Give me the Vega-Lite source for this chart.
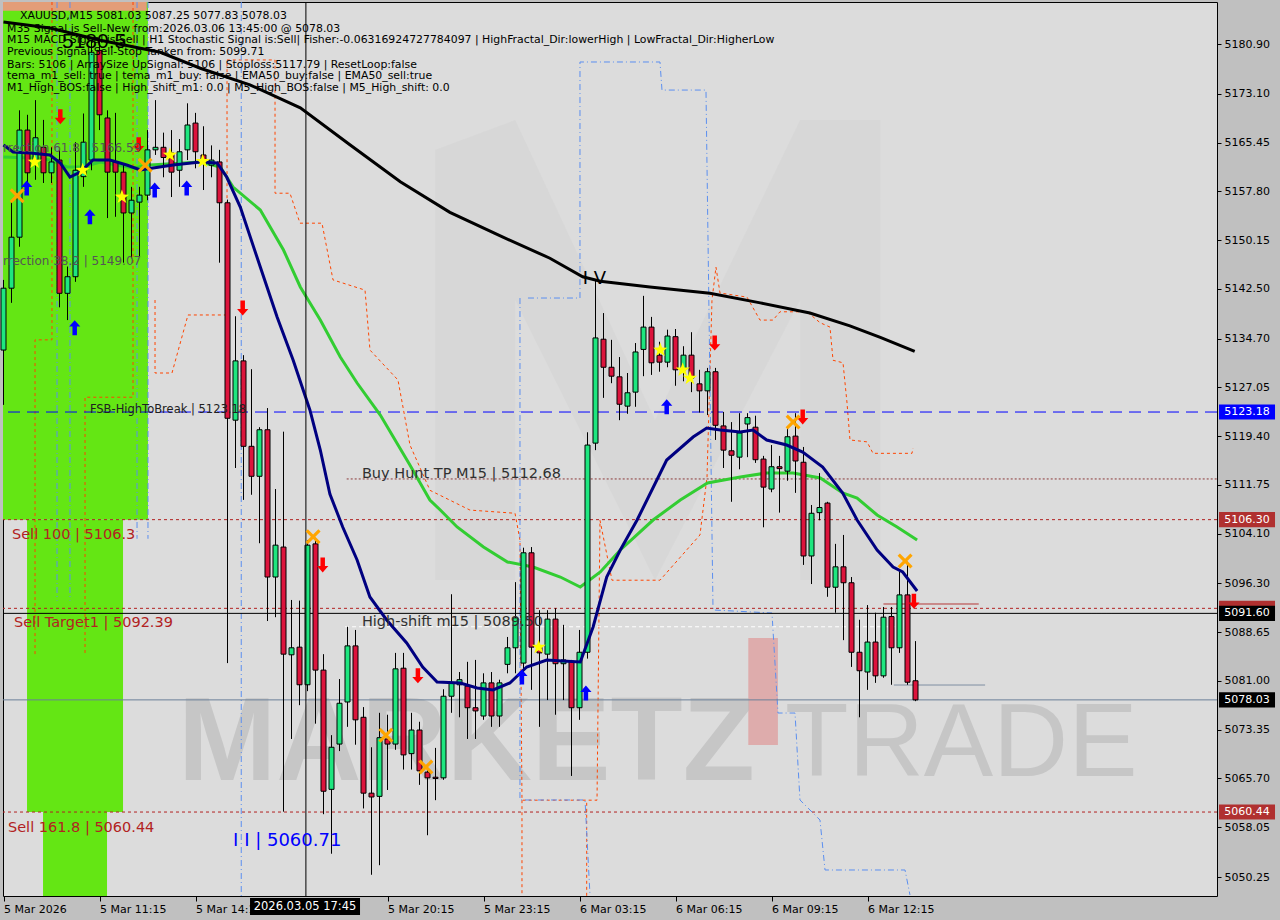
{
"$schema": "https://vega.github.io/schema/vega-lite/v6.json",
"width": 1214, "height": 894,
"autosize": {"type": "none"},
"padding": {"left": 3, "top": 2, "right": 63, "bottom": 24},
"background": "#c0c0c0",
"config": {"view": {"fill": "#dcdcdc", "stroke": "#000000", "strokeWidth": 1}},
"resolve": {"scale": {"color": "independent", "shape": "independent", "size": "independent", "strokeDash": "independent"}},
"datasets": {
"candles": [
{"i":0,"o":5132.9,"h":5143.9,"l":5124.3,"c":5142.6},
{"i":1,"o":5142.6,"h":5156.4,"l":5140.3,"c":5150.6},
{"i":2,"o":5150.6,"h":5170.5,"l":5149.1,"c":5167.4},
{"i":3,"o":5167.4,"h":5169.8,"l":5158.0,"c":5160.7},
{"i":4,"o":5162.7,"h":5172.1,"l":5159.6,"c":5166.2},
{"i":5,"o":5164.7,"h":5169.0,"l":5159.1,"c":5160.7},
{"i":6,"o":5160.7,"h":5164.7,"l":5159.1,"c":5162.4},
{"i":7,"o":5162.7,"h":5164.3,"l":5139.6,"c":5141.8},
{"i":8,"o":5141.8,"h":5146.0,"l":5137.6,"c":5144.4},
{"i":9,"o":5144.4,"h":5165.5,"l":5143.6,"c":5161.1},
{"i":10,"o":5160.1,"h":5170.0,"l":5158.5,"c":5165.5},
{"i":11,"o":5162.7,"h":5181.5,"l":5161.1,"c":5179.6},
{"i":12,"o":5179.9,"h":5181.5,"l":5167.4,"c":5169.8},
{"i":13,"o":5169.3,"h":5170.5,"l":5153.6,"c":5160.8},
{"i":14,"o":5162.4,"h":5170.1,"l":5153.8,"c":5160.8},
{"i":15,"o":5160.8,"h":5162.2,"l":5146.6,"c":5154.4},
{"i":16,"o":5154.4,"h":5158.5,"l":5147.3,"c":5156.4},
{"i":17,"o":5156.1,"h":5158.5,"l":5147.5,"c":5157.2},
{"i":18,"o":5157.2,"h":5167.4,"l":5156.4,"c":5164.3},
{"i":19,"o":5164.3,"h":5172.1,"l":5163.5,"c":5164.7},
{"i":20,"o":5164.7,"h":5167.0,"l":5160.0,"c":5163.1},
{"i":21,"o":5163.8,"h":5167.4,"l":5156.9,"c":5160.8},
{"i":22,"o":5161.1,"h":5166.0,"l":5158.5,"c":5164.0},
{"i":23,"o":5164.3,"h":5171.6,"l":5162.7,"c":5168.2},
{"i":24,"o":5168.5,"h":5170.1,"l":5161.4,"c":5164.0},
{"i":25,"o":5163.5,"h":5168.0,"l":5158.0,"c":5162.4},
{"i":26,"o":5161.9,"h":5165.0,"l":5160.0,"c":5162.7},
{"i":27,"o":5162.4,"h":5164.3,"l":5146.6,"c":5156.0},
{"i":28,"o":5156.0,"h":5156.5,"l":5083.8,"c":5122.2},
{"i":29,"o":5121.9,"h":5138.2,"l":5114.4,"c":5131.2},
{"i":30,"o":5131.2,"h":5132.1,"l":5109.4,"c":5117.8},
{"i":31,"o":5117.8,"h":5129.9,"l":5110.2,"c":5113.1},
{"i":32,"o":5113.1,"h":5120.8,"l":5102.6,"c":5120.4},
{"i":33,"o":5120.4,"h":5123.8,"l":5090.4,"c":5097.3},
{"i":34,"o":5097.3,"h":5111.1,"l":5091.0,"c":5102.3},
{"i":35,"o":5102.0,"h":5120.1,"l":5060.5,"c":5085.2},
{"i":36,"o":5085.1,"h":5093.7,"l":5071.9,"c":5086.2},
{"i":37,"o":5086.3,"h":5093.6,"l":5077.2,"c":5080.4},
{"i":38,"o":5080.4,"h":5103.1,"l":5079.4,"c":5102.3},
{"i":39,"o":5102.5,"h":5103.1,"l":5074.3,"c":5082.7},
{"i":40,"o":5082.7,"h":5085.2,"l":5060.1,"c":5063.7},
{"i":41,"o":5064.0,"h":5072.5,"l":5053.9,"c":5070.6},
{"i":42,"o":5071.1,"h":5081.3,"l":5070.0,"c":5077.5},
{"i":43,"o":5077.7,"h":5089.5,"l":5073.8,"c":5086.5},
{"i":44,"o":5086.5,"h":5089.0,"l":5071.0,"c":5074.9},
{"i":45,"o":5075.3,"h":5076.9,"l":5061.0,"c":5063.4},
{"i":46,"o":5063.4,"h":5070.6,"l":5050.6,"c":5062.8},
{"i":47,"o":5062.9,"h":5076.0,"l":5052.1,"c":5072.1},
{"i":48,"o":5071.9,"h":5075.7,"l":5063.9,"c":5071.1},
{"i":49,"o":5071.1,"h":5085.4,"l":5070.2,"c":5082.9},
{"i":50,"o":5083.0,"h":5085.4,"l":5067.1,"c":5069.4},
{"i":51,"o":5069.6,"h":5076.0,"l":5067.1,"c":5073.3},
{"i":52,"o":5073.3,"h":5074.6,"l":5064.7,"c":5066.9},
{"i":53,"o":5066.7,"h":5067.5,"l":5056.8,"c":5065.8},
{"i":54,"o":5065.9,"h":5070.5,"l":5062.3,"c":5065.7},
{"i":55,"o":5065.8,"h":5079.7,"l":5065.5,"c":5078.6},
{"i":56,"o":5078.6,"h":5094.6,"l":5076.0,"c":5080.7},
{"i":57,"o":5080.4,"h":5082.4,"l":5075.3,"c":5081.2},
{"i":58,"o":5080.2,"h":5084.0,"l":5071.9,"c":5076.8},
{"i":59,"o":5076.8,"h":5084.3,"l":5071.9,"c":5076.3},
{"i":60,"o":5075.5,"h":5082.2,"l":5074.9,"c":5080.7},
{"i":61,"o":5080.7,"h":5082.4,"l":5073.8,"c":5075.5},
{"i":62,"o":5075.5,"h":5081.2,"l":5073.8,"c":5080.7},
{"i":63,"o":5083.6,"h":5087.9,"l":5082.2,"c":5086.2},
{"i":64,"o":5086.2,"h":5096.5,"l":5082.2,"c":5090.9},
{"i":65,"o":5083.8,"h":5101.9,"l":5082.0,"c":5101.1},
{"i":66,"o":5101.1,"h":5102.0,"l":5079.6,"c":5086.3},
{"i":67,"o":5086.3,"h":5092.1,"l":5073.8,"c":5085.4},
{"i":68,"o":5085.2,"h":5092.1,"l":5078.0,"c":5090.7},
{"i":69,"o":5090.7,"h":5092.4,"l":5075.7,"c":5083.7},
{"i":70,"o":5083.7,"h":5089.8,"l":5078.0,"c":5084.3},
{"i":71,"o":5084.1,"h":5084.3,"l":5066.1,"c":5076.8},
{"i":72,"o":5076.8,"h":5089.0,"l":5074.9,"c":5085.5},
{"i":73,"o":5085.5,"h":5120.0,"l":5084.5,"c":5118.0},
{"i":74,"o":5118.3,"h":5143.9,"l":5117.2,"c":5134.8},
{"i":75,"o":5134.6,"h":5138.7,"l":5125.4,"c":5130.2},
{"i":76,"o":5130.2,"h":5134.5,"l":5127.7,"c":5128.8},
{"i":77,"o":5128.7,"h":5131.8,"l":5121.9,"c":5124.4},
{"i":78,"o":5124.1,"h":5129.3,"l":5122.9,"c":5126.2},
{"i":79,"o":5126.3,"h":5134.0,"l":5124.0,"c":5132.6},
{"i":80,"o":5133.0,"h":5141.4,"l":5128.8,"c":5136.5},
{"i":81,"o":5136.5,"h":5138.1,"l":5129.0,"c":5130.9},
{"i":82,"o":5132.1,"h":5134.2,"l":5129.5,"c":5131.0},
{"i":83,"o":5131.0,"h":5136.1,"l":5130.2,"c":5135.1},
{"i":84,"o":5135.0,"h":5136.2,"l":5127.3,"c":5129.8},
{"i":85,"o":5129.8,"h":5133.5,"l":5128.0,"c":5132.1},
{"i":86,"o":5132.1,"h":5135.7,"l":5126.3,"c":5128.5},
{"i":87,"o":5127.6,"h":5129.8,"l":5123.1,"c":5126.5},
{"i":88,"o":5126.5,"h":5130.1,"l":5122.7,"c":5129.5},
{"i":89,"o":5129.5,"h":5130.1,"l":5118.8,"c":5121.1},
{"i":90,"o":5121.0,"h":5123.2,"l":5114.4,"c":5117.2},
{"i":91,"o":5117.1,"h":5121.6,"l":5109.1,"c":5116.4},
{"i":92,"o":5116.1,"h":5123.0,"l":5114.2,"c":5119.9},
{"i":93,"o":5121.3,"h":5123.0,"l":5116.1,"c":5122.3},
{"i":94,"o":5120.8,"h":5122.6,"l":5115.2,"c":5115.7},
{"i":95,"o":5115.8,"h":5116.3,"l":5105.1,"c":5111.4},
{"i":96,"o":5111.1,"h":5118.0,"l":5110.6,"c":5114.6},
{"i":97,"o":5114.6,"h":5116.3,"l":5107.4,"c":5114.3},
{"i":98,"o":5113.9,"h":5120.7,"l":5112.4,"c":5119.3},
{"i":99,"o":5119.4,"h":5123.0,"l":5110.5,"c":5115.5},
{"i":100,"o":5115.3,"h":5117.7,"l":5099.2,"c":5100.6},
{"i":101,"o":5100.6,"h":5108.6,"l":5096.2,"c":5107.3},
{"i":102,"o":5107.4,"h":5113.6,"l":5106.2,"c":5108.2},
{"i":103,"o":5108.9,"h":5109.1,"l":5094.2,"c":5095.7},
{"i":104,"o":5095.7,"h":5102.5,"l":5091.7,"c":5098.9},
{"i":105,"o":5098.9,"h":5103.9,"l":5087.4,"c":5096.4},
{"i":106,"o":5096.4,"h":5097.3,"l":5083.2,"c":5085.5},
{"i":107,"o":5085.5,"h":5090.6,"l":5075.3,"c":5082.6},
{"i":108,"o":5082.4,"h":5092.9,"l":5079.6,"c":5087.1},
{"i":109,"o":5087.1,"h":5091.7,"l":5080.7,"c":5081.8},
{"i":110,"o":5081.8,"h":5092.6,"l":5081.5,"c":5091.0},
{"i":111,"o":5091.1,"h":5092.6,"l":5080.4,"c":5086.2},
{"i":112,"o":5086.2,"h":5098.1,"l":5085.4,"c":5094.5},
{"i":113,"o":5094.5,"h":5099.7,"l":5080.4,"c":5080.8},
{"i":114,"o":5081.03,"h":5087.25,"l":5077.83,"c":5078.03}
],
"ema200": [
{"i":0,"p":5184.35},{"i":5.8,"p":5183.4},{"i":12.1,"p":5181.5},{"i":19.6,"p":5179.6},{"i":24.6,"p":5177.1},{"i":30.8,"p":5174.5},{"i":37.1,"p":5170.9},{"i":43.3,"p":5165.1},{"i":49.6,"p":5159.3},{"i":55.8,"p":5154.5},{"i":62.1,"p":5150.8},{"i":68.3,"p":5147.3},{"i":72.4,"p":5144.4},{"i":74.6,"p":5143.7},{"i":80.8,"p":5142.8},{"i":88.3,"p":5141.8},{"i":94.6,"p":5140.3},{"i":100.8,"p":5138.7},{"i":105.8,"p":5136.7},{"i":109.6,"p":5134.9},{"i":113.9,"p":5132.7}
],
"ema20": [
{"i":0,"p":5165.06},{"i":1.2,"p":5163.96},{"i":3.3,"p":5163.8},{"i":5.8,"p":5163.49},{"i":7.1,"p":5162.24},{"i":8.3,"p":5160.04},{"i":9.6,"p":5160.82},{"i":11.2,"p":5162.71},{"i":13.3,"p":5162.71},{"i":15.4,"p":5161.92},{"i":17.1,"p":5161.14},{"i":18.7,"p":5161.45},{"i":21.2,"p":5161.92},{"i":24.6,"p":5162.39},{"i":26.7,"p":5162.24},{"i":27.9,"p":5160.04},{"i":29.6,"p":5155.33},{"i":32.1,"p":5145.92},{"i":34.2,"p":5138.08},{"i":36.2,"p":5131.34},{"i":38.3,"p":5123.5},{"i":39.6,"p":5117.22},{"i":40.8,"p":5110.32},{"i":42.4,"p":5105.15},{"i":44.2,"p":5099.97},{"i":45.8,"p":5094.17},{"i":47.9,"p":5090.56},{"i":50.4,"p":5086.95},{"i":52.4,"p":5083.19},{"i":54.2,"p":5080.83},{"i":57.1,"p":5080.68},{"i":59.2,"p":5079.89},{"i":61.2,"p":5079.58},{"i":63.3,"p":5080.68},{"i":65.4,"p":5083.19},{"i":67.9,"p":5084.29},{"i":69.9,"p":5084.13},{"i":72.1,"p":5083.97},{"i":73.7,"p":5089.46},{"i":75.4,"p":5097.3},{"i":77.1,"p":5101.54},{"i":79.2,"p":5106.24},{"i":82.9,"p":5115.65},{"i":86.2,"p":5119.26},{"i":87.9,"p":5120.67},{"i":89.6,"p":5120.35},{"i":92.1,"p":5120.04},{"i":93.7,"p":5120.35},{"i":95.4,"p":5118.79},{"i":97.9,"p":5118.0},{"i":99.9,"p":5116.9},{"i":102.4,"p":5114.55},{"i":104.9,"p":5110.48},{"i":106.7,"p":5106.24},{"i":109.2,"p":5101.54},{"i":111.2,"p":5098.87},{"i":112.4,"p":5098.09},{"i":114.2,"p":5095.11}
],
"ema50": [
{"i":0,"p":5163.18},{"i":3.7,"p":5163.02},{"i":5.8,"p":5162.71},{"i":7.9,"p":5161.61},{"i":9.9,"p":5161.61},{"i":12.1,"p":5162.39},{"i":16.2,"p":5161.45},{"i":18.3,"p":5161.92},{"i":24.6,"p":5162.39},{"i":27.1,"p":5161.61},{"i":28.7,"p":5158.47},{"i":32.1,"p":5154.86},{"i":35.0,"p":5148.59},{"i":37.1,"p":5142.79},{"i":39.6,"p":5137.61},{"i":42.1,"p":5131.81},{"i":44.2,"p":5127.73},{"i":47.1,"p":5122.71},{"i":50.8,"p":5114.87},{"i":53.3,"p":5109.38},{"i":54.6,"p":5107.81},{"i":56.7,"p":5105.15},{"i":60.0,"p":5102.01},{"i":63.0,"p":5099.66},{"i":66.2,"p":5098.87},{"i":69.6,"p":5097.3},{"i":72.1,"p":5095.74},{"i":74.6,"p":5098.09},{"i":77.1,"p":5101.54},{"i":81.2,"p":5106.24},{"i":84.6,"p":5109.38},{"i":88.0,"p":5112.05},{"i":92.1,"p":5112.99},{"i":95.4,"p":5113.62},{"i":98.7,"p":5113.62},{"i":102.1,"p":5112.83},{"i":104.9,"p":5110.48},{"i":106.7,"p":5109.69},{"i":109.2,"p":5107.03},{"i":111.7,"p":5105.15},{"i":114.2,"p":5103.11}
],
"marks": [
{"i":2.9,"p":5158.3,"k":"up"},{"i":10.8,"p":5153.8,"k":"up"},{"i":18.9,"p":5158.0,"k":"up"},{"i":22.9,"p":5158.3,"k":"up"},{"i":8.9,"p":5136.4,"k":"up"},{"i":82.9,"p":5124.0,"k":"up"},{"i":64.8,"p":5081.6,"k":"up"},{"i":72.8,"p":5079.1,"k":"up"},
{"i":7.1,"p":5169.5,"k":"down"},{"i":16.9,"p":5165.1,"k":"down"},{"i":29.9,"p":5139.5,"k":"down"},{"i":39.9,"p":5099.2,"k":"down"},{"i":51.8,"p":5081.8,"k":"down"},{"i":88.9,"p":5134.0,"k":"down"},{"i":99.9,"p":5122.4,"k":"down"},{"i":113.8,"p":5093.5,"k":"down"},
{"i":3.9,"p":5162.4,"k":"star"},{"i":9.9,"p":5161.1,"k":"star"},{"i":14.8,"p":5156.9,"k":"star"},{"i":20.8,"p":5163.5,"k":"star"},{"i":24.9,"p":5162.5,"k":"star"},{"i":82.1,"p":5132.9,"k":"star"},{"i":84.9,"p":5129.8,"k":"star"},{"i":85.8,"p":5128.5,"k":"star"},{"i":66.9,"p":5086.3,"k":"star"},
{"i":1.7,"p":5157.1,"k":"x"},{"i":17.7,"p":5161.9,"k":"x"},{"i":38.7,"p":5103.6,"k":"x"},{"i":47.8,"p":5072.5,"k":"x"},{"i":52.8,"p":5067.5,"k":"x"},{"i":98.7,"p":5121.6,"k":"x"},{"i":112.7,"p":5099.8,"k":"x"}
],
"chan": [
{"s":"O1","c":"o","n":1,"i":18.94,"p":5140.75},{"s":"O1","c":"o","n":2,"i":18.94,"p":5129.3},{"s":"O1","c":"o","n":3,"i":21.06,"p":5129.3},{"s":"O1","c":"o","n":4,"i":23.06,"p":5138.4},{"s":"O1","c":"o","n":5,"i":27.94,"p":5138.4},{"s":"O1","c":"o","n":6,"i":27.94,"p":5178.4},{"s":"O1","c":"o","n":7,"i":33.94,"p":5178.4},{"s":"O1","c":"o","n":8,"i":33.94,"p":5157.5},{"s":"O1","c":"o","n":9,"i":35.81,"p":5157.5},{"s":"O1","c":"o","n":10,"i":37.06,"p":5152.8},{"s":"O1","c":"o","n":11,"i":39.81,"p":5152.8},{"s":"O1","c":"o","n":12,"i":41.19,"p":5143.9},{"s":"O1","c":"o","n":13,"i":45.19,"p":5142.3},{"s":"O1","c":"o","n":14,"i":45.81,"p":5132.9},{"s":"O1","c":"o","n":15,"i":49.31,"p":5128.2},{"s":"O1","c":"o","n":16,"i":50.81,"p":5118.0},{"s":"O1","c":"o","n":17,"i":53.31,"p":5110.9},{"s":"O1","c":"o","n":18,"i":58.31,"p":5107.8},{"s":"O1","c":"o","n":19,"i":63.94,"p":5107.3},{"s":"O1","c":"o","n":20,"i":64.56,"p":5103.1},{"s":"O1","c":"o","n":21,"i":64.81,"p":5062.3},{"s":"O1","c":"o","n":22,"i":74.19,"p":5062.3},{"s":"O1","c":"o","n":23,"i":74.56,"p":5106.2},{"s":"O1","c":"o","n":24,"i":76.06,"p":5096.8},{"s":"O1","c":"o","n":25,"i":82.06,"p":5096.8},{"s":"O1","c":"o","n":26,"i":87.06,"p":5103.9},{"s":"O1","c":"o","n":27,"i":87.94,"p":5113.0},{"s":"O1","c":"o","n":28,"i":88.56,"p":5140.75},{"s":"O1","c":"o","n":29,"i":89.06,"p":5145.9},{"s":"O1","c":"o","n":30,"i":89.56,"p":5141.85},{"s":"O1","c":"o","n":31,"i":92.94,"p":5141.2},{"s":"O1","c":"o","n":32,"i":94.56,"p":5137.6},{"s":"O1","c":"o","n":33,"i":96.19,"p":5137.6},{"s":"O1","c":"o","n":34,"i":97.06,"p":5138.9},{"s":"O1","c":"o","n":35,"i":100.44,"p":5138.9},{"s":"O1","c":"o","n":36,"i":102.06,"p":5137.2},{"s":"O1","c":"o","n":37,"i":103.31,"p":5136.5},{"s":"O1","c":"o","n":38,"i":103.69,"p":5131.3},{"s":"O1","c":"o","n":39,"i":104.94,"p":5130.9},{"s":"O1","c":"o","n":40,"i":105.44,"p":5124.6},{"s":"O1","c":"o","n":41,"i":105.81,"p":5118.8},{"s":"O1","c":"o","n":42,"i":107.94,"p":5118.5},{"s":"O1","c":"o","n":43,"i":108.69,"p":5116.7},{"s":"O1","c":"o","n":44,"i":113.56,"p":5116.7},{"s":"O1","c":"o","n":45,"i":113.69,"p":5117.5},
{"s":"O2","c":"o","n":1,"i":72.9,"p":5047.3},{"s":"O2","c":"o","n":2,"i":72.9,"p":5062.3},
{"s":"O3","c":"o","n":1,"i":64.81,"p":5062.3},{"s":"O3","c":"o","n":2,"i":64.81,"p":5047.3},
{"s":"O4","c":"o","n":1,"i":6.06,"p":5187.49},{"s":"O4","c":"o","n":2,"i":6.06,"p":5134.5},{"s":"O4","c":"o","n":3,"i":3.94,"p":5134.5},{"s":"O4","c":"o","n":4,"i":3.94,"p":5085.0},
{"s":"O5","c":"o","n":1,"i":16.19,"p":5187.49},{"s":"O5","c":"o","n":2,"i":16.19,"p":5125.5},{"s":"O5","c":"o","n":3,"i":10.19,"p":5125.5},{"s":"O5","c":"o","n":4,"i":10.19,"p":5085.0},
{"s":"B1","c":"b","n":1,"i":29.72,"p":5187.49},{"s":"B1","c":"b","n":2,"i":29.72,"p":5047.27},
{"s":"B2","c":"b","n":1,"i":65.56,"p":5141.06},{"s":"B2","c":"b","n":2,"i":72.06,"p":5141.06},{"s":"B2","c":"b","n":3,"i":72.06,"p":5178.08},{"s":"B2","c":"b","n":4,"i":82.06,"p":5178.08},{"s":"B2","c":"b","n":5,"i":82.31,"p":5173.68},{"s":"B2","c":"b","n":6,"i":87.81,"p":5173.68},{"s":"B2","c":"b","n":7,"i":88.69,"p":5092.13},{"s":"B2","c":"b","n":8,"i":96.06,"p":5091.66},{"s":"B2","c":"b","n":9,"i":96.81,"p":5075.97},{"s":"B2","c":"b","n":10,"i":98.94,"p":5075.97},{"s":"B2","c":"b","n":11,"i":99.56,"p":5062.33},{"s":"B2","c":"b","n":12,"i":102.06,"p":5059.19},{"s":"B2","c":"b","n":13,"i":102.69,"p":5051.35},{"s":"B2","c":"b","n":14,"i":112.69,"p":5051.35},{"s":"B2","c":"b","n":15,"i":113.31,"p":5047.43},
{"s":"B3","c":"b","n":1,"i":64.56,"p":5141.06},{"s":"B3","c":"b","n":2,"i":64.56,"p":5062.33},{"s":"B3","c":"b","n":3,"i":72.69,"p":5062.33},{"s":"B3","c":"b","n":4,"i":73.31,"p":5047.43},
{"s":"B4","c":"b","n":1,"i":6.69,"p":5187.49},{"s":"B4","c":"b","n":2,"i":6.69,"p":5093.6},
{"s":"B5","c":"b","n":1,"i":8.31,"p":5187.49},{"s":"B5","c":"b","n":2,"i":8.31,"p":5093.6},
{"s":"B6","c":"b","n":1,"i":16.69,"p":5187.49},{"s":"B6","c":"b","n":2,"i":16.69,"p":5103.3},
{"s":"B7","c":"b","n":1,"i":18.06,"p":5187.49},{"s":"B7","c":"b","n":2,"i":18.06,"p":5103.3}
]
},
"layer": [
{"data": {"values": [{"a":-0.0625,"b":18.06,"p1":5187.49,"p2":5106.3},{"a":2.94,"b":14.94,"p1":5106.3,"p2":5060.44},{"a":4.94,"b":12.94,"p1":5060.44,"p2":5047.27}]},
 "mark": {"type": "rect", "color": "#64e614"},
 "encoding": {"x": {"field":"a","type":"quantitative","title":null,"scale":{"domain":[-0.0625,151.6875],"nice":false,"zero":false,"padding":0}},"x2":{"field":"b"},
  "y": {"field":"p1","type":"quantitative","title":null,"scale":{"domain":[5047.27,5187.49],"nice":false,"zero":false}},"y2":{"field":"p2"}}},
{"data": {"values": [{"a":-0.0625,"b":17.9,"p1":5187.49,"p2":5186.1}]},
 "mark": {"type": "rect", "color": "#e39d78"},
 "encoding": {"x": {"field":"a","type":"quantitative","title":null},"x2":{"field":"b"},
  "y": {"field":"p1","type":"quantitative","title":null},"y2":{"field":"p2"}}},
{"data": {"values": [{"i":81.7,"p":5132.91}]},
 "mark": {"type": "point", "filled": true, "fill": "#c8c8c8", "opacity": 0.22, "strokeWidth": 0, "size": 211600,
  "shape": "M-0.965,1L-0.965,-0.87L-0.617,-1L-0.009,0.304L0.622,-1L0.97,-1L0.97,1L0.622,1L0.622,-0.217L-0.009,1L-0.617,-0.217L-0.617,1Z"},
 "encoding": {"x": {"field":"i","type":"quantitative","title":null},
  "y": {"field":"p","type":"quantitative","title":null}}},
{"data": {"values": [{"a":93.1,"b":96.8,"p1":5087.74,"p2":5070.95}]},
 "mark": {"type": "rect", "color": "#e07070", "opacity": 0.45},
 "encoding": {"x": {"field":"a","type":"quantitative","title":null},"x2":{"field":"b"},
  "y": {"field":"p1","type":"quantitative","title":null},"y2":{"field":"p2"}}},
{"data": {"values": [{"t":"MARKETZ","i":21.8,"p":5070.95}]},
 "mark": {"type": "text", "font": "Liberation Sans", "fontWeight": "bold", "fontSize": 118, "color": "#b8b8b8", "opacity": 0.6, "align": "left"},
 "encoding": {"x": {"field":"i","type":"quantitative","title":null},
  "y": {"field":"p","type":"quantitative","title":null},"text":{"field":"t"}}},
{"data": {"values": [{"t":"TRADE","i":97.7,"p":5070.95}]},
 "mark": {"type": "text", "font": "Liberation Sans", "fontSize": 104, "color": "#b8b8b8", "opacity": 0.6, "align": "left"},
 "encoding": {"x": {"field":"i","type":"quantitative","title":null},
  "y": {"field":"p","type":"quantitative","title":null},"text":{"field":"t"}}},
{"data": {"name": "chan"},
 "mark": {"type": "line", "strokeWidth": 1, "clip": true},
 "encoding": {"x": {"field":"i","type":"quantitative","title":null},
  "y": {"field":"p","type":"quantitative","title":null},
  "detail": {"field":"s"}, "order": {"field":"n","type":"quantitative"},
  "color": {"field":"c","type":"nominal","scale":{"domain":["o","b"],"range":["#ff4500","#5b8ff0"]},"legend":null},
  "strokeDash": {"field":"c","type":"nominal","scale":{"domain":["o","b"],"range":[[3,3],[6,3,1,3]]},"legend":null}}},
{"data": {"values": [{"p":5123.18,"k":"fsb"},{"p":5106.3,"k":"sell"},{"p":5092.39,"k":"sell"},{"p":5060.44,"k":"sell"},{"p":5078.03,"k":"bid"},{"p":5091.6,"k":"cross"}]},
 "mark": {"type": "rule", "strokeWidth": 1},
 "encoding": {"y": {"field":"p","type":"quantitative","title":null},
  "color": {"field":"k","type":"nominal","scale":{"domain":["fsb","sell","bid","cross"],"range":["#0000ff","#b22222","#6b7f99","#000000"]},"legend":null},
  "strokeDash": {"field":"k","type":"nominal","scale":{"domain":["fsb","sell","bid","cross"],"range":[[12,7],[3,3],[1,0],[1,0]]},"legend":null}}},
{"data": {"values": [{"i":42.9,"i2":151.6875,"p":5112.68,"k":"hunt"},{"i":42.7,"i2":112.7,"p":5089.5,"k":"hs"},{"i":110.0,"i2":121.9,"p":5093.07,"k":"red"},{"i":111.3,"i2":122.7,"p":5080.36,"k":"gray"}]},
 "mark": {"type": "rule", "strokeWidth": 1},
 "encoding": {"x": {"field":"i","type":"quantitative","title":null},"x2":{"field":"i2"},
  "y": {"field":"p","type":"quantitative","title":null},
  "color": {"field":"k","type":"nominal","scale":{"domain":["hunt","hs","red","gray"],"range":["#8b3a3a","#ffffff","#b22222","#7a8aa0"]},"legend":null},
  "strokeDash": {"field":"k","type":"nominal","scale":{"domain":["hunt","hs","red","gray"],"range":[[2,2],[4,3],[1,0],[1,0]]},"legend":null}}},
{"data": {"name": "ema200"},
 "mark": {"type": "line", "color": "#000000", "strokeWidth": 3},
 "encoding": {"x": {"field":"i","type":"quantitative","title":null},
  "y": {"field":"p","type":"quantitative","title":null}}},
{"data": {"name": "ema50"},
 "mark": {"type": "line", "color": "#32cd32", "strokeWidth": 3},
 "encoding": {"x": {"field":"i","type":"quantitative","title":null},
  "y": {"field":"p","type":"quantitative","title":null}}},
{"data": {"name": "candles"},
 "mark": {"type": "rule", "color": "#000000", "strokeWidth": 1},
 "encoding": {"x": {"field":"i","type":"quantitative","title":null,
   "axis": {"orient":"bottom","values":[0,12,24,48,60,72,84,96,108],"labelExpr":"datum.value==0?'5 Mar 2026':datum.value==12?'5 Mar 11:15':datum.value==24?'5 Mar 14:15':datum.value==48?'5 Mar 20:15':datum.value==60?'5 Mar 23:15':datum.value==72?'6 Mar 03:15':datum.value==84?'6 Mar 06:15':datum.value==96?'6 Mar 09:15':'6 Mar 12:15'","title":null,"domain":false,"grid":false,"ticks":true,"tickSize":5,"tickColor":"#000000","labelAlign":"left","labelBaseline":"top","labelPadding":2,"labelFont":"DejaVu Sans","labelFontSize":11,"labelColor":"#000000","labelOverlap":false,"labelFlush":false}},
  "y": {"field":"l","type":"quantitative","title":null,
   "axis": {"orient":"right","values":[5180.9,5173.1,5165.45,5157.8,5150.15,5142.5,5134.7,5127.05,5119.4,5111.75,5104.1,5096.3,5088.65,5081.0,5073.35,5065.7,5058.05,5050.25],"format":".2f","title":null,"domain":false,"grid":false,"tickSize":4,"tickColor":"#000000","labelPadding":3,"labelFont":"DejaVu Sans","labelFontSize":11,"labelColor":"#000000","labelOverlap":false,"labelFlush":false}},
  "y2": {"field":"h"}}},
{"data": {"name": "candles"},
 "mark": {"type": "bar", "size": 5, "stroke": "#000000", "strokeWidth": 1},
 "encoding": {"x": {"field":"i","type":"quantitative","title":null},
  "y": {"field":"o","type":"quantitative","title":null},"y2":{"field":"c"},
  "color": {"condition": {"test": "datum.c >= datum.o", "value": "#1ee67f"}, "value": "#dc143c"}}},
{"data": {"name": "ema20"},
 "mark": {"type": "line", "color": "#000080", "strokeWidth": 3},
 "encoding": {"x": {"field":"i","type":"quantitative","title":null},
  "y": {"field":"p","type":"quantitative","title":null}}},
{"data": {"values": [{"i":37.8}]},
 "mark": {"type": "rule", "color": "#000000", "strokeWidth": 1},
 "encoding": {"x": {"field":"i","type":"quantitative","title":null}}},
{"data": {"name": "marks"},
 "mark": {"type": "point", "filled": true, "opacity": 1, "strokeWidth": 0},
 "encoding": {"x": {"field":"i","type":"quantitative","title":null},
  "y": {"field":"p","type":"quantitative","title":null},
  "shape": {"field":"k","type":"nominal","scale":{"domain":["up","down","star","x"],"range":["M0,-1L0.75,-0.15L0.3,-0.15L0.3,1L-0.3,1L-0.3,-0.15L-0.75,-0.15Z","M0,1L0.75,0.15L0.3,0.15L0.3,-1L-0.3,-1L-0.3,0.15L-0.75,0.15Z","M0,-1L0.235,-0.324L0.951,-0.309L0.38,0.124L0.588,0.809L0,0.4L-0.588,0.809L-0.38,0.124L-0.951,-0.309L-0.235,-0.324Z","M-1,-0.7L-0.7,-1L0,-0.3L0.7,-1L1,-0.7L0.3,0L1,0.7L0.7,1L0,0.3L-0.7,1L-1,0.7L-0.3,0Z"]},"legend":null},
  "color": {"field":"k","type":"nominal","scale":{"domain":["up","down","star","x"],"range":["#0000ff","#ff0000","#ffff00","#ffa500"]},"legend":null},
  "size": {"field":"k","type":"nominal","scale":{"domain":["up","down","star","x"],"range":[225,225,400,169]},"legend":null}}},
{"data": {"values": [
 {"t":"XAUUSD,M15  5081.03 5087.25 5077.83 5078.03","i":2.06,"p":5185.29},
 {"t":"M35 Signal is Sell-New from:2026.03.06 13:45:00 @ 5078.03","i":0.44,"p":5183.33},
 {"t":"M15 MACD Signal is Sell | H1 Stochastic Signal is:Sell| Fisher:-0.06316924727784097 | HighFractal_Dir:lowerHigh | LowFractal_Dir:HigherLow","i":0.44,"p":5181.53},
 {"t":"Previous Signal:Sell-Stop Tanken from: 5099.71","i":0.44,"p":5179.64},
 {"t":"Bars: 5106 | ArraySize UpSignal: 5106 | Stoploss:5117.79 | ResetLoop:false","i":0.44,"p":5177.68},
 {"t":"tema_m1_sell: true | tema_m1_buy: false | EMA50_buy:false | EMA50_sell:true","i":0.44,"p":5175.88},
 {"t":"M1_High_BOS:false | High_shift_m1: 0.0 | M5_High_BOS:false | M5_High_shift: 0.0","i":0.44,"p":5174.0}]},
 "mark": {"type": "text", "font": "DejaVu Sans", "fontSize": 10.9, "color": "#000000", "align": "left"},
 "encoding": {"x": {"field":"i","type":"quantitative","title":null},
  "y": {"field":"p","type":"quantitative","title":null},"text":{"field":"t"}}},
{"data": {"values": [{"t":"5180.5","i":7.31,"p":5181.2}]},
 "mark": {"type": "text", "font": "Liberation Sans", "fontSize": 21, "color": "#000000", "align": "left"},
 "encoding": {"x": {"field":"i","type":"quantitative","title":null},
  "y": {"field":"p","type":"quantitative","title":null},"text":{"field":"t"}}},
{"data": {"values": [{"t":"rrection 61.8 | 5166.59","i":-0.06,"p":5164.6},{"t":"rrection 38.2 | 5149.07","i":-0.06,"p":5146.9}]},
 "mark": {"type": "text", "font": "DejaVu Sans", "fontSize": 12, "color": "#555555", "align": "left"},
 "encoding": {"x": {"field":"i","type":"quantitative","title":null},
  "y": {"field":"p","type":"quantitative","title":null},"text":{"field":"t"}}},
{"data": {"values": [
 {"t":"Sell 100 | 5106.3","i":1.06,"p":5103.9,"k":"sell"},
 {"t":"Sell Target1 | 5092.39","i":1.31,"p":5090.1,"k":"sell"},
 {"t":"Sell 161.8 | 5060.44","i":0.56,"p":5057.9,"k":"sell"},
 {"t":"Buy Hunt TP M15 | 5112.68","i":44.8,"p":5113.5,"k":"dark"},
 {"t":"High-shift m15 | 5089.50","i":44.8,"p":5090.2,"k":"dark"}]},
 "mark": {"type": "text", "font": "DejaVu Sans", "fontSize": 14.5, "align": "left"},
 "encoding": {"x": {"field":"i","type":"quantitative","title":null},
  "y": {"field":"p","type":"quantitative","title":null},"text":{"field":"t"},
  "color": {"field":"k","type":"nominal","scale":{"domain":["sell","dark"],"range":["#b22222","#303030"]},"legend":null}}},
{"data": {"values": [{"t":"FSB-HighToBreak | 5123.18","i":10.8,"p":5123.5}]},
 "mark": {"type": "text", "font": "DejaVu Sans", "fontSize": 11.5, "color": "#202020", "align": "left"},
 "encoding": {"x": {"field":"i","type":"quantitative","title":null},
  "y": {"field":"p","type":"quantitative","title":null},"text":{"field":"t"}}},
{"data": {"values": [{"t":"I I | 5060.71","i":28.7,"p":5055.9,"k":"b"},{"t":"I V","i":72.4,"p":5144.04,"k":"k"}]},
 "mark": {"type": "text", "font": "DejaVu Sans", "fontSize": 18, "align": "left"},
 "encoding": {"x": {"field":"i","type":"quantitative","title":null},
  "y": {"field":"p","type":"quantitative","title":null},"text":{"field":"t"},
  "color": {"field":"k","type":"nominal","scale":{"domain":["b","k"],"range":["#0000ff","#000000"]},"legend":null}}},
{"data": {"values": [{"p":5123.18,"t":"5123.18","k":"b"},{"p":5106.3,"t":"5106.30","k":"r"},{"p":5092.39,"t":"5092.39","k":"r"},{"p":5091.6,"t":"5091.60","k":"k"},{"p":5078.03,"t":"5078.03","k":"k"},{"p":5060.44,"t":"5060.44","k":"r"}]},
 "mark": {"type": "point", "filled": true, "opacity": 1, "strokeWidth": 0, "size": 3136, "shape": "M-1,-0.27H1V0.27H-1Z"},
 "encoding": {"x": {"datum": 155.44, "type":"quantitative","title":null},
  "y": {"field":"p","type":"quantitative","title":null},
  "color": {"field":"k","type":"nominal","scale":{"domain":["b","r","k"],"range":["#0000ff","#b03030","#000000"]},"legend":null}}},
{"data": {"values": [{"p":5123.18,"t":"5123.18"},{"p":5106.3,"t":"5106.30"},{"p":5091.6,"t":"5091.60"},{"p":5078.03,"t":"5078.03"},{"p":5060.44,"t":"5060.44"}]},
 "mark": {"type": "text", "font": "DejaVu Sans", "fontSize": 11, "color": "#ffffff", "align": "center", "baseline": "middle"},
 "encoding": {"x": {"datum": 155.44, "type":"quantitative","title":null},
  "y": {"field":"p","type":"quantitative","title":null},
  "text": {"field":"t"}}},
{"data": {"values": [{"t":"2026.03.05 17:45","p":5045.62}]},
 "mark": {"type": "point", "filled": true, "fill": "#000000", "opacity": 1, "strokeWidth": 0, "size": 12100, "shape": "M-1,-0.155H1V0.155H-1Z"},
 "encoding": {"x": {"datum": 37.69, "type":"quantitative","title":null},
  "y": {"field":"p","type":"quantitative","title":null}}},
{"data": {"values": [{"t":"2026.03.05 17:45","p":5045.62}]},
 "mark": {"type": "text", "font": "DejaVu Sans", "fontSize": 11.5, "color": "#ffffff", "align": "center", "baseline": "middle"},
 "encoding": {"x": {"datum": 37.69, "type":"quantitative","title":null},
  "y": {"field":"p","type":"quantitative","title":null},
  "text": {"field":"t"}}}
]
}
